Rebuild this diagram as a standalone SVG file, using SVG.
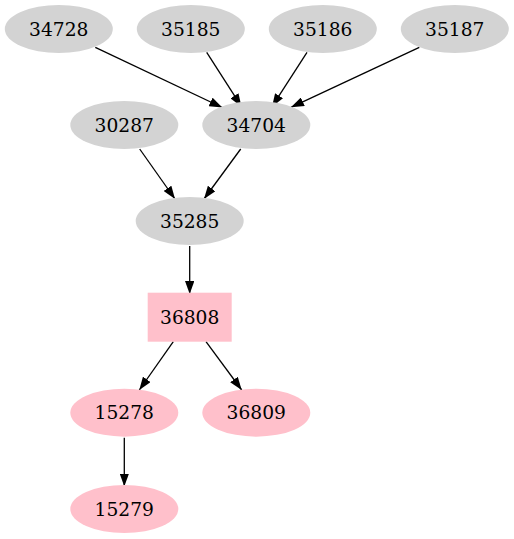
<svg xmlns="http://www.w3.org/2000/svg" width="514" height="539" viewBox="0 0 514 539">
<style>
.g{fill:#d3d3d3}
.p{fill:#ffc0cb}
text{font-family:"DejaVu Serif",serif;font-size:18.67px;text-anchor:middle;fill:#000}
.e line{stroke:#000;stroke-width:1.3;marker-end:url(#a)}
</style>
<defs>
<marker id="a" viewBox="0 0 13 9.4" refX="13" refY="4.7" markerWidth="13" markerHeight="9.4" markerUnits="userSpaceOnUse" orient="auto">
<path d="M0,0 L13,4.7 L0,9.4 z" fill="#000"/>
</marker>
</defs>
<rect width="514" height="539" fill="#fff"/>
<g class="e" id="edges">
<line x1="95.3" y1="47.3" x2="222.3" y2="107.5"/>
<line x1="206.7" y1="52.3" x2="241.5" y2="106.7"/>
<line x1="307" y1="52.3" x2="272" y2="106.7"/>
<line x1="419.3" y1="47.3" x2="291" y2="107.3"/>
<line x1="139.7" y1="149" x2="175" y2="199"/>
<line x1="240.7" y1="149" x2="204" y2="199"/>
<line x1="189.7" y1="246" x2="189.7" y2="294"/>
<line x1="173.3" y1="341.7" x2="139.3" y2="390"/>
<line x1="206" y1="341.7" x2="241.7" y2="390"/>
<line x1="124.3" y1="437.7" x2="124.3" y2="486.5"/>
</g>
<g id="n34728"><ellipse class="g" cx="58.8" cy="29" rx="54" ry="24"/><text x="58.8" y="35.5">34728</text></g>
<g id="n35185"><ellipse class="g" cx="190.8" cy="29" rx="54" ry="24"/><text x="190.8" y="35.5">35185</text></g>
<g id="n35186"><ellipse class="g" cx="322.8" cy="29" rx="54" ry="24"/><text x="322.8" y="35.5">35186</text></g>
<g id="n35187"><ellipse class="g" cx="454.8" cy="29" rx="54" ry="24"/><text x="454.8" y="35.5">35187</text></g>
<g id="n30287"><ellipse class="g" cx="124.3" cy="125" rx="54" ry="24"/><text x="124.3" y="131.5">30287</text></g>
<g id="n34704"><ellipse class="g" cx="256.3" cy="125" rx="54" ry="24"/><text x="256.3" y="131.5">34704</text></g>
<g id="n35285"><ellipse class="g" cx="189.7" cy="221" rx="54" ry="24"/><text x="189.7" y="227.5">35285</text></g>
<g id="n36808"><rect class="p" x="147.7" y="292.7" width="84" height="49"/><text x="189.7" y="323.5">36808</text></g>
<g id="n15278"><ellipse class="p" cx="124.3" cy="412.7" rx="54" ry="24"/><text x="124.3" y="419.2">15278</text></g>
<g id="n36809"><ellipse class="p" cx="256.3" cy="412.7" rx="54" ry="24"/><text x="256.3" y="419.2">36809</text></g>
<g id="n15279"><ellipse class="p" cx="124.3" cy="509" rx="54" ry="24"/><text x="124.3" y="515.5">15279</text></g>
</svg>
